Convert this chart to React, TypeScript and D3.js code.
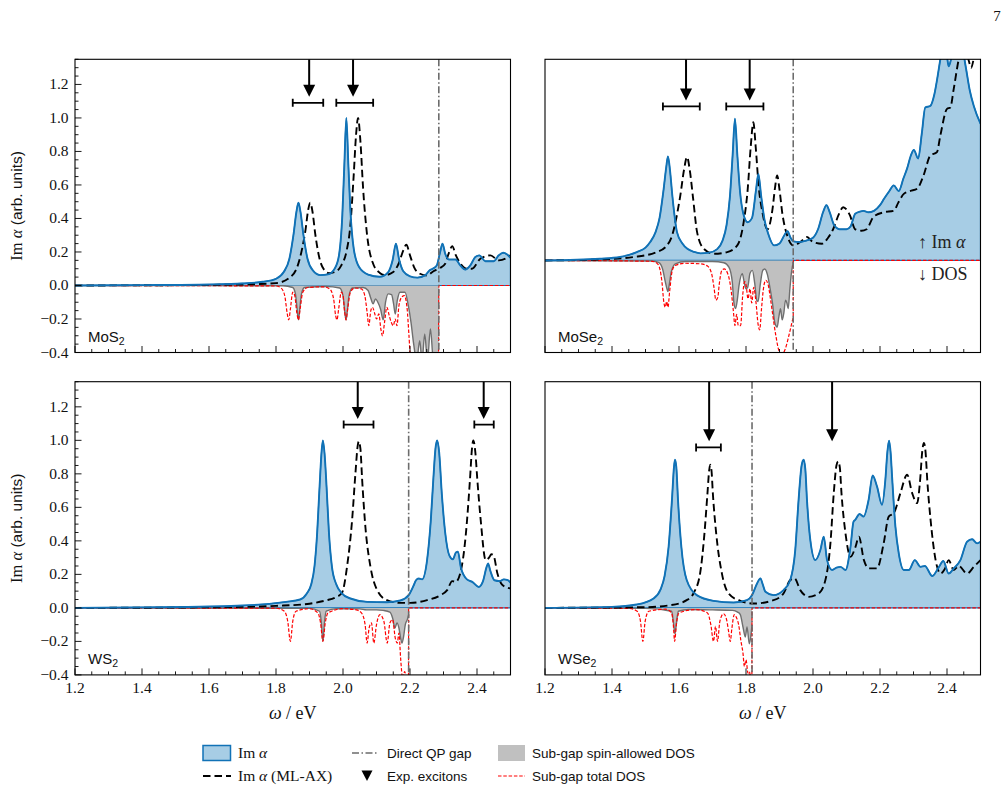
import React, { useEffect, useRef } from 'react';
import * as d3 from 'd3';

type Pt = [number, number];

// ---- MoS2 (top left) ----
const mos2ImAlpha: Pt[] = [
  [1.2, 0], [1.4, 0.002], [1.6, 0.006], [1.7, 0.012], [1.76, 0.022], [1.8, 0.04], [1.823, 0.08],
  [1.84, 0.16], [1.852, 0.3], [1.861, 0.44], [1.867, 0.494], [1.873, 0.44], [1.882, 0.3], [1.894, 0.16],
  [1.91, 0.09], [1.932, 0.062], [1.955, 0.066], [1.975, 0.1], [1.988, 0.18], [1.998, 0.42], [2.004, 0.72],
  [2.01, 1.0], [2.016, 0.72], [2.022, 0.45], [2.032, 0.22], [2.048, 0.11], [2.075, 0.065], [2.11, 0.052],
  [2.135, 0.08], [2.148, 0.15], [2.158, 0.25], [2.167, 0.16], [2.18, 0.085], [2.2, 0.055], [2.222, 0.047],
  [2.245, 0.06], [2.258, 0.09], [2.268, 0.1], [2.28, 0.12], [2.29, 0.2], [2.297, 0.25], [2.305, 0.19],
  [2.316, 0.155], [2.336, 0.155], [2.35, 0.12], [2.365, 0.095], [2.38, 0.12], [2.395, 0.17], [2.407, 0.18],
  [2.425, 0.145], [2.45, 0.145], [2.465, 0.18], [2.478, 0.195], [2.49, 0.185], [2.5, 0.165],
];
const mos2MlAx: Pt[] = [
  [1.2, 0], [1.5, 0.002], [1.7, 0.006], [1.8, 0.014], [1.843, 0.05], [1.865, 0.12], [1.878, 0.22],
  [1.888, 0.33], [1.896, 0.45], [1.902, 0.494], [1.909, 0.44], [1.917, 0.31], [1.93, 0.16], [1.945, 0.09],
  [1.958, 0.074], [1.975, 0.08], [1.995, 0.12], [2.01, 0.2], [2.022, 0.36], [2.032, 0.66], [2.039, 0.9],
  [2.045, 1.0], [2.052, 0.86], [2.06, 0.58], [2.072, 0.3], [2.09, 0.13], [2.11, 0.075], [2.125, 0.062],
  [2.15, 0.08], [2.168, 0.14], [2.18, 0.21], [2.189, 0.243], [2.2, 0.18], [2.212, 0.11], [2.23, 0.07],
  [2.25, 0.06], [2.27, 0.085], [2.29, 0.105], [2.305, 0.13], [2.317, 0.2], [2.326, 0.235], [2.337, 0.18],
  [2.351, 0.13], [2.37, 0.1], [2.385, 0.1], [2.41, 0.16], [2.44, 0.18], [2.465, 0.15], [2.485, 0.16], [2.5, 0.18],
];
const mos2DosAllowed: Pt[] = [
  [1.2, 0], [1.82, -0.002], [1.85, -0.012], [1.858, -0.05], [1.863, -0.14], [1.867, -0.205], [1.871, -0.14],
  [1.876, -0.05], [1.885, -0.012], [1.95, -0.006], [1.99, -0.015], [2.0, -0.06], [2.005, -0.15], [2.009, -0.205],
  [2.013, -0.15], [2.018, -0.06], [2.028, -0.015], [2.06, -0.012], [2.075, -0.03], [2.082, -0.07], [2.09, -0.11],
  [2.097, -0.08], [2.104, -0.1], [2.112, -0.14], [2.12, -0.205], [2.127, -0.1], [2.135, -0.05], [2.145, -0.055],
  [2.151, -0.11], [2.156, -0.17], [2.162, -0.09], [2.17, -0.04], [2.185, -0.04], [2.195, -0.12], [2.203, -0.22],
  [2.211, -0.35], [2.22, -0.45], [2.229, -0.33], [2.236, -0.45], [2.244, -0.29], [2.252, -0.45], [2.261, -0.26],
  [2.27, -0.45], [2.286, -0.45],
];
const mos2DosTotal: Pt[] = [
  [1.2, 0], [1.8, -0.003], [1.815, -0.015], [1.826, -0.06], [1.833, -0.16], [1.838, -0.205], [1.843, -0.14],
  [1.85, -0.04], [1.856, -0.06], [1.862, -0.16], [1.867, -0.205], [1.872, -0.14], [1.88, -0.04], [1.895, -0.012],
  [1.94, -0.008], [1.96, -0.02], [1.972, -0.08], [1.978, -0.18], [1.982, -0.205], [1.987, -0.14], [1.995, -0.04],
  [2.0, -0.06], [2.005, -0.16], [2.009, -0.205], [2.014, -0.14], [2.022, -0.04], [2.035, -0.015], [2.055, -0.02],
  [2.065, -0.06], [2.072, -0.16], [2.077, -0.24], [2.083, -0.15], [2.088, -0.13], [2.095, -0.17], [2.1, -0.2],
  [2.107, -0.17], [2.113, -0.26], [2.118, -0.3], [2.124, -0.22], [2.131, -0.13], [2.138, -0.18], [2.144, -0.22],
  [2.15, -0.24], [2.156, -0.2], [2.161, -0.24], [2.167, -0.12], [2.175, -0.07], [2.183, -0.06], [2.191, -0.13],
  [2.197, -0.3], [2.202, -0.45], [2.285, -0.45], [2.2861, 0], [2.5, 0],
];
const mos2Gap = 2.286;
const mos2Excitons = [1.899, 2.03];
const mos2ErrorBars: Pt[] = [[1.85, 1.941], [1.98, 2.09]];

// ---- MoSe2 (top right) ----
const mose2ImAlpha: Pt[] = [
  [1.2, 0], [1.364, 0.012], [1.424, 0.024], [1.474, 0.059], [1.5, 0.09], [1.514, 0.13], [1.53, 0.2],
  [1.542, 0.3], [1.554, 0.5], [1.562, 0.66], [1.567, 0.734], [1.573, 0.64], [1.58, 0.46], [1.594, 0.2],
  [1.61, 0.12], [1.625, 0.082], [1.645, 0.06], [1.664, 0.05], [1.69, 0.055], [1.714, 0.08], [1.73, 0.14],
  [1.742, 0.25], [1.752, 0.45], [1.76, 0.74], [1.767, 1.0], [1.774, 0.75], [1.782, 0.49], [1.792, 0.33],
  [1.805, 0.27], [1.818, 0.3], [1.83, 0.5], [1.837, 0.61], [1.845, 0.46], [1.855, 0.29], [1.866, 0.19],
  [1.884, 0.106], [1.9, 0.12], [1.915, 0.18], [1.924, 0.207], [1.933, 0.16], [1.942, 0.135], [1.96, 0.13],
  [1.98, 0.14], [2.0, 0.16], [2.015, 0.22], [2.03, 0.34], [2.04, 0.39], [2.05, 0.34], [2.063, 0.25],
  [2.08, 0.22], [2.1, 0.22], [2.112, 0.24], [2.126, 0.33], [2.14, 0.345], [2.151, 0.35], [2.165, 0.34],
  [2.182, 0.35], [2.2, 0.39], [2.212, 0.435], [2.228, 0.49], [2.241, 0.53], [2.256, 0.49], [2.27, 0.58],
  [2.281, 0.65], [2.292, 0.74], [2.301, 0.78], [2.314, 0.72], [2.325, 0.9], [2.335, 1.08], [2.35, 1.09],
  [2.362, 1.17], [2.372, 1.3], [2.38, 1.42], [2.39, 1.55], [2.4, 1.44], [2.405, 1.37], [2.412, 1.42],
  [2.425, 1.56], [2.44, 1.56], [2.455, 1.38], [2.468, 1.2], [2.48, 1.09], [2.5, 0.965],
];
const mose2MlAx: Pt[] = [
  [1.2, 0], [1.364, 0.007], [1.464, 0.024], [1.534, 0.059], [1.564, 0.106], [1.58, 0.18], [1.592, 0.3],
  [1.604, 0.46], [1.615, 0.64], [1.624, 0.73], [1.632, 0.64], [1.642, 0.44], [1.654, 0.2], [1.674, 0.082],
  [1.704, 0.047], [1.744, 0.059], [1.774, 0.106], [1.793, 0.27], [1.805, 0.5], [1.814, 0.8], [1.822, 0.976],
  [1.829, 0.8], [1.838, 0.52], [1.849, 0.34], [1.864, 0.22], [1.879, 0.36], [1.887, 0.52], [1.893, 0.6],
  [1.9, 0.5], [1.908, 0.34], [1.923, 0.176], [1.942, 0.106], [1.962, 0.13], [1.982, 0.165], [2.0, 0.13],
  [2.027, 0.118], [2.045, 0.16], [2.06, 0.22], [2.078, 0.33], [2.09, 0.376], [2.1, 0.36], [2.11, 0.32],
  [2.126, 0.22], [2.145, 0.21], [2.16, 0.22], [2.18, 0.306], [2.211, 0.34], [2.241, 0.35], [2.255, 0.41],
  [2.271, 0.47], [2.29, 0.49], [2.311, 0.506], [2.33, 0.6], [2.35, 0.74], [2.37, 0.765], [2.38, 0.88],
  [2.4, 1.07], [2.41, 1.08], [2.42, 1.21], [2.435, 1.42], [2.45, 1.55], [2.465, 1.41], [2.472, 1.36],
  [2.482, 1.45], [2.5, 1.6],
];
const mose2DosAllowed: Pt[] = [
  [1.2, 0], [1.52, -0.004], [1.54, -0.015], [1.551, -0.06], [1.559, -0.15], [1.564, -0.2], [1.567, -0.22],
  [1.571, -0.17], [1.577, -0.08], [1.589, -0.024], [1.62, -0.008], [1.7, -0.008], [1.734, -0.016],
  [1.749, -0.047], [1.759, -0.15], [1.764, -0.3], [1.769, -0.34], [1.774, -0.28], [1.779, -0.18],
  [1.789, -0.094], [1.795, -0.16], [1.8, -0.2], [1.805, -0.19], [1.812, -0.09], [1.819, -0.07], [1.826, -0.16],
  [1.832, -0.28], [1.836, -0.29], [1.842, -0.18], [1.85, -0.07], [1.856, -0.06], [1.864, -0.1], [1.872, -0.2],
  [1.879, -0.3], [1.886, -0.44], [1.893, -0.47], [1.898, -0.4], [1.903, -0.34], [1.908, -0.42], [1.913, -0.37],
  [1.918, -0.28], [1.922, -0.3], [1.926, -0.34], [1.931, -0.2], [1.936, -0.08], [1.942, -0.005],
];
const mose2DosTotal: Pt[] = [
  [1.2, 0], [1.52, -0.006], [1.538, -0.03], [1.549, -0.15], [1.555, -0.3], [1.559, -0.33], [1.563, -0.29],
  [1.567, -0.33], [1.572, -0.22], [1.58, -0.07], [1.589, -0.035], [1.62, -0.02], [1.664, -0.024],
  [1.685, -0.04], [1.697, -0.09], [1.705, -0.2], [1.71, -0.28], [1.716, -0.26], [1.72, -0.17], [1.728, -0.07],
  [1.735, -0.06], [1.745, -0.09], [1.755, -0.2], [1.762, -0.35], [1.767, -0.46], [1.772, -0.38], [1.777, -0.46],
  [1.784, -0.46], [1.79, -0.25], [1.796, -0.15], [1.8, -0.17], [1.806, -0.27], [1.812, -0.2], [1.817, -0.3],
  [1.823, -0.19], [1.83, -0.3], [1.836, -0.45], [1.841, -0.49], [1.846, -0.35], [1.852, -0.2], [1.859, -0.14],
  [1.866, -0.17], [1.873, -0.27], [1.879, -0.37], [1.889, -0.53], [1.899, -0.64], [1.908, -0.66],
  [1.918, -0.62], [1.928, -0.53], [1.938, -0.43], [1.941, -0.4], [1.9411, 0], [2.5, 0],
];
const mose2Gap = 1.941;
const mose2Excitons = [1.621, 1.811];
const mose2ErrorBars: Pt[] = [[1.552, 1.662], [1.741, 1.852]];

// ---- WS2 (bottom left) ----
const ws2ImAlpha: Pt[] = [
  [1.2, 0], [1.4, 0.003], [1.6, 0.008], [1.7, 0.014], [1.78, 0.024], [1.83, 0.036], [1.872, 0.05],
  [1.892, 0.086], [1.905, 0.14], [1.915, 0.25], [1.922, 0.42], [1.93, 0.72], [1.936, 0.93], [1.94, 1.0],
  [1.945, 0.92], [1.951, 0.72], [1.958, 0.45], [1.967, 0.245], [1.98, 0.14], [1.995, 0.09], [2.022, 0.056],
  [2.072, 0.036], [2.131, 0.034], [2.171, 0.044], [2.196, 0.076], [2.21, 0.13], [2.218, 0.165],
  [2.226, 0.175], [2.236, 0.17], [2.251, 0.285], [2.262, 0.52], [2.27, 0.78], [2.276, 0.95], [2.281, 1.0],
  [2.287, 0.93], [2.295, 0.68], [2.305, 0.45], [2.318, 0.31], [2.328, 0.29], [2.337, 0.33], [2.343, 0.335],
  [2.352, 0.24], [2.37, 0.17], [2.386, 0.155], [2.405, 0.125], [2.418, 0.16], [2.428, 0.24], [2.433, 0.265],
  [2.44, 0.22], [2.452, 0.165], [2.468, 0.16], [2.48, 0.17], [2.492, 0.165], [2.5, 0.15],
];
const ws2MlAx: Pt[] = [
  [1.2, 0], [1.5, 0.002], [1.7, 0.006], [1.8, 0.012], [1.9, 0.025], [1.95, 0.045], [1.975, 0.06],
  [1.997, 0.09], [2.012, 0.245], [2.027, 0.52], [2.037, 0.8], [2.044, 0.97], [2.047, 0.994], [2.052, 0.95],
  [2.057, 0.77], [2.067, 0.48], [2.082, 0.245], [2.102, 0.106], [2.131, 0.046], [2.171, 0.03], [2.201, 0.03],
  [2.251, 0.046], [2.291, 0.076], [2.311, 0.106], [2.326, 0.16], [2.336, 0.155], [2.351, 0.215],
  [2.366, 0.425], [2.379, 0.765], [2.385, 0.95], [2.389, 1.0], [2.395, 0.93], [2.401, 0.765], [2.411, 0.525],
  [2.426, 0.285], [2.436, 0.3], [2.443, 0.32], [2.449, 0.315], [2.461, 0.205], [2.476, 0.136], [2.5, 0.116],
];
const ws2DosAllowed: Pt[] = [
  [1.2, 0], [1.9, -0.003], [1.93, -0.02], [1.935, -0.08], [1.94, -0.2], [1.945, -0.08], [1.95, -0.02],
  [1.98, -0.005], [2.05, -0.006], [2.07, -0.012], [2.1, -0.012], [2.12, -0.015], [2.14, -0.025],
  [2.148, -0.06], [2.155, -0.12], [2.161, -0.09], [2.167, -0.12], [2.172, -0.18], [2.176, -0.21],
  [2.181, -0.17], [2.186, -0.1], [2.192, -0.07], [2.196, -0.04],
];
const ws2DosTotal: Pt[] = [
  [1.2, 0], [1.8, -0.002], [1.825, -0.02], [1.835, -0.08], [1.843, -0.2], [1.85, -0.08], [1.86, -0.02],
  [1.9, -0.005], [1.925, -0.03], [1.933, -0.09], [1.94, -0.2], [1.947, -0.09], [1.955, -0.03], [2.0, -0.005],
  [2.04, -0.012], [2.055, -0.03], [2.066, -0.1], [2.072, -0.21], [2.078, -0.12], [2.085, -0.09],
  [2.092, -0.21], [2.1, -0.1], [2.11, -0.04], [2.122, -0.08], [2.132, -0.21], [2.14, -0.09], [2.148, -0.07],
  [2.156, -0.18], [2.162, -0.21], [2.167, -0.15], [2.172, -0.3], [2.178, -0.42], [2.184, -0.38],
  [2.19, -0.43], [2.1955, -0.45], [2.196, 0], [2.5, 0],
];
const ws2Gap = 2.196;
const ws2Excitons = [2.044, 2.42];
const ws2ErrorBars: Pt[] = [[2.002, 2.091], [2.392, 2.45]];

// ---- WSe2 (bottom right) ----
const wse2ImAlpha: Pt[] = [
  [1.2, 0], [1.4, 0.006], [1.474, 0.02], [1.524, 0.056], [1.545, 0.11], [1.557, 0.19], [1.569, 0.365],
  [1.579, 0.645], [1.585, 0.84], [1.588, 0.884], [1.592, 0.84], [1.597, 0.645], [1.607, 0.365],
  [1.623, 0.166], [1.653, 0.076], [1.703, 0.042], [1.763, 0.032], [1.803, 0.046], [1.818, 0.076],
  [1.833, 0.146], [1.843, 0.176], [1.85, 0.14], [1.858, 0.096], [1.882, 0.076], [1.912, 0.106],
  [1.932, 0.166], [1.947, 0.345], [1.957, 0.645], [1.966, 0.85], [1.972, 0.884], [1.977, 0.83],
  [1.982, 0.645], [1.992, 0.405], [2.007, 0.285], [2.022, 0.345], [2.032, 0.425], [2.042, 0.285],
  [2.057, 0.226], [2.07, 0.24], [2.082, 0.245], [2.097, 0.226], [2.112, 0.365], [2.121, 0.515],
  [2.126, 0.525], [2.139, 0.56], [2.151, 0.545], [2.166, 0.645], [2.178, 0.79], [2.191, 0.725],
  [2.206, 0.615], [2.216, 0.765], [2.222, 0.93], [2.227, 0.998], [2.232, 0.92], [2.236, 0.785],
  [2.246, 0.485], [2.256, 0.325], [2.271, 0.226], [2.286, 0.226], [2.304, 0.285], [2.321, 0.245],
  [2.334, 0.25], [2.356, 0.19], [2.376, 0.245], [2.389, 0.28], [2.405, 0.205], [2.42, 0.235], [2.44, 0.285],
  [2.46, 0.395], [2.475, 0.41], [2.49, 0.385], [2.5, 0.395],
];
const wse2MlAx: Pt[] = [
  [1.2, 0], [1.5, 0.004], [1.574, 0.016], [1.623, 0.046], [1.643, 0.086], [1.663, 0.206], [1.676, 0.445],
  [1.685, 0.685], [1.69, 0.82], [1.693, 0.854], [1.697, 0.82], [1.701, 0.685], [1.711, 0.445],
  [1.728, 0.206], [1.748, 0.086], [1.783, 0.042], [1.823, 0.026], [1.882, 0.046], [1.912, 0.086],
  [1.932, 0.166], [1.945, 0.176], [1.962, 0.106], [1.987, 0.066], [2.017, 0.086], [2.037, 0.166],
  [2.052, 0.385], [2.062, 0.685], [2.07, 0.85], [2.075, 0.874], [2.08, 0.84], [2.085, 0.685], [2.097, 0.445],
  [2.112, 0.305], [2.127, 0.365], [2.137, 0.425], [2.152, 0.285], [2.167, 0.236], [2.191, 0.236],
  [2.211, 0.385], [2.226, 0.545], [2.241, 0.565], [2.261, 0.685], [2.281, 0.795], [2.296, 0.685],
  [2.311, 0.625], [2.319, 0.745], [2.327, 0.95], [2.331, 0.984], [2.336, 0.93], [2.341, 0.765],
  [2.351, 0.525], [2.366, 0.285], [2.381, 0.205], [2.393, 0.23], [2.405, 0.285], [2.42, 0.226],
  [2.435, 0.25], [2.46, 0.205], [2.48, 0.245], [2.5, 0.285],
];
const wse2DosAllowed: Pt[] = [
  [1.2, 0], [1.5, -0.003], [1.578, -0.02], [1.583, -0.08], [1.588, -0.154], [1.593, -0.08], [1.598, -0.02],
  [1.63, -0.01], [1.7, -0.012], [1.76, -0.015], [1.775, -0.025], [1.783, -0.04], [1.791, -0.114],
  [1.798, -0.174], [1.803, -0.114], [1.81, -0.214], [1.815, -0.16], [1.818, -0.1],
];
const wse2DosTotal: Pt[] = [
  [1.2, 0], [1.45, -0.003], [1.475, -0.02], [1.485, -0.08], [1.492, -0.2], [1.499, -0.08], [1.51, -0.02],
  [1.56, -0.008], [1.578, -0.03], [1.583, -0.1], [1.587, -0.2], [1.592, -0.1], [1.6, -0.03], [1.65, -0.01],
  [1.685, -0.03], [1.695, -0.1], [1.703, -0.2], [1.709, -0.11], [1.715, -0.2], [1.722, -0.08],
  [1.733, -0.035], [1.742, -0.07], [1.748, -0.14], [1.753, -0.2], [1.758, -0.12], [1.765, -0.04],
  [1.772, -0.06], [1.778, -0.1], [1.785, -0.2], [1.791, -0.27], [1.795, -0.35], [1.8, -0.31], [1.806, -0.39],
  [1.81, -0.38], [1.814, -0.42], [1.8175, -0.45], [1.818, 0], [2.5, 0],
];
const wse2Gap = 1.818;
const wse2Excitons = [1.69, 2.057];
const wse2ErrorBars: Pt[] = [[1.651, 1.725]];

// axis values
const xDomain: Pt = [1.2, 2.5];
const xMajorTicks = [1.2, 1.4, 1.6, 1.8, 2.0, 2.2, 2.4];
const xMinorTicks = d3.range(27).map(i => +(1.2 + i * 0.05).toFixed(2));
const yMajorTicks = [-0.4, -0.2, 0.0, 0.2, 0.4, 0.6, 0.8, 1.0, 1.2];
const yMinorTicks = d3.range(36).map(i => +(-0.4 + i * 0.05).toFixed(2));

const panels = [
  { label: 'MoS', im: mos2ImAlpha, ax: mos2MlAx, allowed: mos2DosAllowed, total: mos2DosTotal,
    gap: mos2Gap, exc: mos2Excitons, bars: mos2ErrorBars, yDomain: [-0.4, 1.35], tipY: 1.126, barY: 1.09,
    col: 0, row: 0 },
  { label: 'MoSe', im: mose2ImAlpha, ax: mose2MlAx, allowed: mose2DosAllowed, total: mose2DosTotal,
    gap: mose2Gap, exc: mose2Excitons, bars: mose2ErrorBars, yDomain: [-0.65, 1.42], tipY: 1.129, barY: 1.087,
    col: 1, row: 0 },
  { label: 'WS', im: ws2ImAlpha, ax: ws2MlAx, allowed: ws2DosAllowed, total: ws2DosTotal,
    gap: ws2Gap, exc: ws2Excitons, bars: ws2ErrorBars, yDomain: [-0.4, 1.35], tipY: 1.128, barY: 1.094,
    col: 0, row: 1 },
  { label: 'WSe', im: wse2ImAlpha, ax: wse2MlAx, allowed: wse2DosAllowed, total: wse2DosTotal,
    gap: wse2Gap, exc: wse2Excitons, bars: wse2ErrorBars, yDomain: [-0.4, 1.35], tipY: 0.994, barY: 0.958,
    col: 1, row: 1 },
];

const COL_X = [75, 545];
const ROW_Y = [59.3, 381.7];
const PANEL_W = 435.5;
const PANEL_H = 293.2;

const BLUE_LINE = '#1172b6';
const BLUE_FILL = '#a7cde5';
const GRAY_FILL = '#c0c0c0';
const GRAY_LINE = '#6f6f6f';
const GAP_COLOR = '#6c6c6c';
const SERIF = "'Liberation Serif', 'DejaVu Serif', serif";
const SANS = "'Liberation Sans', Arial, sans-serif";

const fmt = (v: number) => (v < 0 ? '\u2212' : '') + Math.abs(v).toFixed(1);

const App = () => {
  const svgRef = useRef<SVGSVGElement>(null);

  useEffect(() => {
    if (!svgRef.current) return;
    const svg = d3.select(svgRef.current);
    svg.selectAll('*').remove();

    panels.forEach((p, i) => {
      const left = COL_X[p.col];
      const top = ROW_Y[p.row];
      const bottom = top + PANEL_H;
      const x = d3.scaleLinear().domain(xDomain).range([left, left + PANEL_W]);
      const y = d3.scaleLinear().domain(p.yDomain).range([bottom, top]);

      const clipId = `clip-${i}`;
      svg.append('clipPath').attr('id', clipId)
        .append('rect').attr('x', left).attr('y', top).attr('width', PANEL_W).attr('height', PANEL_H);
      const g = svg.append('g').attr('clip-path', `url(#${clipId})`);

      const area = d3.area<Pt>().x(d => x(d[0])).y0(y(0)).y1(d => y(d[1])).curve(d3.curveMonotoneX);
      const line = d3.line<Pt>().x(d => x(d[0])).y(d => y(d[1])).curve(d3.curveMonotoneX);

      // Im alpha filled area
      g.append('path').attr('d', area(p.im))
        .attr('fill', BLUE_FILL).attr('stroke', BLUE_LINE).attr('stroke-width', 1.2);

      // sub-gap spin-allowed DOS
      g.append('path').attr('d', area(p.allowed)).attr('fill', GRAY_FILL);
      g.append('path').attr('d', line(p.allowed))
        .attr('fill', 'none').attr('stroke', GRAY_LINE).attr('stroke-width', 1.4);

      // sub-gap total DOS
      g.append('path').attr('d', line(p.total))
        .attr('fill', 'none').attr('stroke', '#ff0000').attr('stroke-width', 1.2)
        .attr('stroke-dasharray', '3.5,1.8');

      // ML-AX
      g.append('path').attr('d', line(p.ax))
        .attr('fill', 'none').attr('stroke', '#000').attr('stroke-width', 1.9)
        .attr('stroke-dasharray', '7.5,4');

      // Im alpha line on top
      g.append('path').attr('d', line(p.im))
        .attr('fill', 'none').attr('stroke', BLUE_LINE).attr('stroke-width', 1.9);

      // direct QP gap
      g.append('line')
        .attr('x1', x(p.gap)).attr('x2', x(p.gap)).attr('y1', top).attr('y2', bottom)
        .attr('stroke', GAP_COLOR).attr('stroke-width', 1.6)
        .attr('stroke-dasharray', '7,2.5,1.5,2.5');

      // experimental excitons
      p.exc.forEach(e => {
        const tip = y(p.tipY);
        g.append('line').attr('x1', x(e)).attr('x2', x(e)).attr('y1', top).attr('y2', tip - 8)
          .attr('stroke', '#000').attr('stroke-width', 2);
        g.append('path')
          .attr('d', `M${x(e) - 6},${tip - 12}L${x(e) + 6},${tip - 12}L${x(e)},${tip}Z`)
          .attr('fill', '#000');
      });
      p.bars.forEach(b => {
        const yb = y(p.barY);
        g.append('line').attr('x1', x(b[0])).attr('x2', x(b[1])).attr('y1', yb).attr('y2', yb)
          .attr('stroke', '#000').attr('stroke-width', 1.8);
        [b[0], b[1]].forEach(v => {
          g.append('line').attr('x1', x(v)).attr('x2', x(v)).attr('y1', yb - 4).attr('y2', yb + 4)
            .attr('stroke', '#000').attr('stroke-width', 1.8);
        });
      });

      // frame
      svg.append('rect').attr('x', left).attr('y', top).attr('width', PANEL_W).attr('height', PANEL_H)
        .attr('fill', 'none').attr('stroke', '#000').attr('stroke-width', 1.1);

      // bottom ticks (inward)
      xMinorTicks.forEach(v => {
        const major = xMajorTicks.some(m => Math.abs(m - v) < 1e-6);
        svg.append('line').attr('x1', x(v)).attr('x2', x(v))
          .attr('y1', bottom).attr('y2', bottom - (major ? 6.5 : 3.5))
          .attr('stroke', '#000').attr('stroke-width', 0.9);
      });
      if (p.row === 1) {
        xMajorTicks.forEach(v => {
          svg.append('text').attr('x', x(v)).attr('y', bottom + 18.5)
            .attr('text-anchor', 'middle').attr('font-family', SERIF).attr('font-size', 15.5)
            .attr('fill', '#111').text(v.toFixed(1));
        });
        const t = svg.append('text').attr('x', left + PANEL_W / 2).attr('y', bottom + 44)
          .attr('text-anchor', 'middle').attr('font-family', SERIF).attr('font-size', 18).attr('fill', '#111');
        t.append('tspan').attr('font-style', 'italic').text('ω');
        t.append('tspan').text(' / eV');
      }

      // left ticks only on left column
      if (p.col === 0) {
        yMinorTicks.forEach(v => {
          const major = yMajorTicks.some(m => Math.abs(m - v) < 1e-6);
          svg.append('line').attr('x1', left).attr('x2', left + (major ? 6.5 : 3.5))
            .attr('y1', y(v)).attr('y2', y(v)).attr('stroke', '#000').attr('stroke-width', 0.9);
        });
        yMajorTicks.forEach(v => {
          svg.append('text').attr('x', left - 6.5).attr('y', y(v) + 5)
            .attr('text-anchor', 'end').attr('font-family', SERIF).attr('font-size', 15.5)
            .attr('fill', '#111').text(fmt(v));
        });
        const t = svg.append('text')
          .attr('transform', `translate(22,${top + PANEL_H / 2}) rotate(-90)`)
          .attr('text-anchor', 'middle').attr('font-size', 16.5).attr('fill', '#111');
        t.append('tspan').attr('font-family', SERIF).text('Im ');
        t.append('tspan').attr('font-family', SERIF).attr('font-style', 'italic').text('α');
        t.append('tspan').attr('font-family', SANS).attr('font-size', 15.5).text(' (arb. units)');
      }

      // material label
      const lab = svg.append('text').attr('x', left + 13).attr('y', bottom - 11)
        .attr('font-family', SANS).attr('font-size', 15).attr('fill', '#111');
      lab.append('tspan').text(p.label);
      lab.append('tspan').attr('font-size', 10.5).attr('dy', 3).text('2');
    });

    // MoSe2 annotation
    const up = svg.append('text').attr('x', 918).attr('y', 248)
      .attr('font-family', SERIF).attr('font-size', 18).attr('fill', '#222');
    up.append('tspan').text('↑ Im ');
    up.append('tspan').attr('font-style', 'italic').text('α');
    svg.append('text').attr('x', 918).attr('y', 280)
      .attr('font-family', SERIF).attr('font-size', 18).attr('fill', '#222').text('↓ DOS');

    // page number
    svg.append('text').attr('x', 997).attr('y', 21).attr('text-anchor', 'middle')
      .attr('font-family', SERIF).attr('font-size', 15).attr('fill', '#111').text('7');

    // legend
    const r1 = 753;
    const r2 = 776;
    svg.append('rect').attr('x', 203).attr('y', r1 - 7.5).attr('width', 27.5).attr('height', 15)
      .attr('fill', BLUE_FILL).attr('stroke', BLUE_LINE).attr('stroke-width', 1.5);
    const l1 = svg.append('text').attr('x', 238).attr('y', r1 + 5)
      .attr('font-family', SERIF).attr('font-size', 15.5).attr('fill', '#111');
    l1.append('tspan').text('Im ');
    l1.append('tspan').attr('font-style', 'italic').text('α');

    svg.append('line').attr('x1', 203).attr('x2', 231).attr('y1', r2).attr('y2', r2)
      .attr('stroke', '#000').attr('stroke-width', 1.9).attr('stroke-dasharray', '7.5,4');
    const l2 = svg.append('text').attr('x', 238).attr('y', r2 + 5)
      .attr('font-family', SERIF).attr('font-size', 15.5).attr('fill', '#111');
    l2.append('tspan').text('Im ');
    l2.append('tspan').attr('font-style', 'italic').text('α');
    l2.append('tspan').text(' (ML-AX)');

    svg.append('line').attr('x1', 352).attr('x2', 377).attr('y1', r1).attr('y2', r1)
      .attr('stroke', GAP_COLOR).attr('stroke-width', 1.6).attr('stroke-dasharray', '7,2.5,1.5,2.5');
    svg.append('text').attr('x', 387).attr('y', r1 + 5)
      .attr('font-family', SANS).attr('font-size', 13.5).attr('fill', '#111').text('Direct QP gap');

    svg.append('path').attr('d', `M${361.5},${r2 - 5.5}L${372.5},${r2 - 5.5}L${367},${r2 + 5}Z`).attr('fill', '#000');
    svg.append('text').attr('x', 387).attr('y', r2 + 5)
      .attr('font-family', SANS).attr('font-size', 13.5).attr('fill', '#111').text('Exp. excitons');

    svg.append('rect').attr('x', 498).attr('y', r1 - 8).attr('width', 27).attr('height', 16)
      .attr('fill', GRAY_FILL);
    svg.append('text').attr('x', 532).attr('y', r1 + 5)
      .attr('font-family', SANS).attr('font-size', 13.5).attr('fill', '#111').text('Sub-gap spin-allowed DOS');

    svg.append('line').attr('x1', 498).attr('x2', 525).attr('y1', r2).attr('y2', r2)
      .attr('stroke', '#ff0000').attr('stroke-width', 1.2).attr('stroke-dasharray', '3.5,1.8');
    svg.append('text').attr('x', 532).attr('y', r2 + 5)
      .attr('font-family', SANS).attr('font-size', 13.5).attr('fill', '#111').text('Sub-gap total DOS');
  }, []);

  return (
    <div style={{ position: 'absolute', left: 0, top: 0 }}>
      <svg ref={svgRef} width={1008} height={793} style={{ display: 'block', background: '#fff' }} />
    </div>
  );
};

export default App;
